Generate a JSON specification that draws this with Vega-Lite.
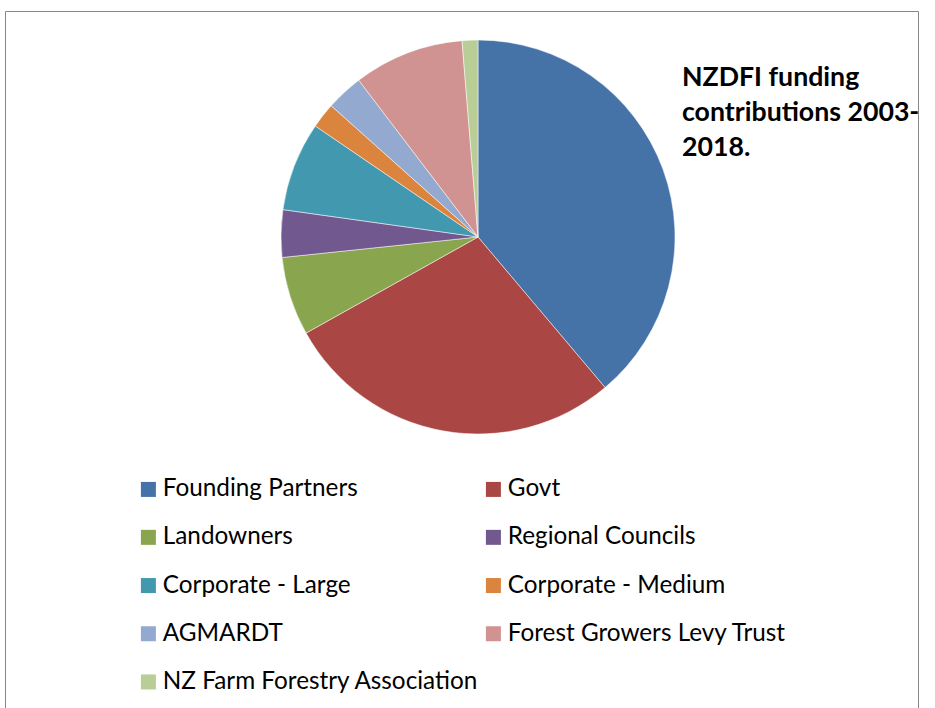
{
  "$schema": "https://vega.github.io/schema/vega-lite/v6.json",
  "autosize": "none",
  "width": 946,
  "height": 452,
  "padding": {"left": 5, "top": 11, "right": -16, "bottom": 245},
  "background": "white",
  "title": {
    "text": ["NZDFI funding", "contributions 2003-", "2018."],
    "orient": "none",
    "anchor": "start",
    "frame": "group",
    "align": "left",
    "baseline": "alphabetic",
    "dx": 677,
    "dy": 75,
    "font": "Lato",
    "fontSize": 26.7,
    "fontWeight": "bold",
    "color": "black",
    "lineHeight": 35
  },
  "data": {
    "values": [
      {"contributor": "Founding Partners", "share": 38.84, "order": 1},
      {"contributor": "Govt", "share": 28.05, "order": 2},
      {"contributor": "Landowners", "share": 6.45, "order": 3},
      {"contributor": "Regional Councils", "share": 3.88, "order": 4},
      {"contributor": "Corporate - Large", "share": 7.31, "order": 5},
      {"contributor": "Corporate - Medium", "share": 2.08, "order": 6},
      {"contributor": "AGMARDT", "share": 3.04, "order": 7},
      {"contributor": "Forest Growers Levy Trust", "share": 9.06, "order": 8},
      {"contributor": "NZ Farm Forestry Association", "share": 1.29, "order": 9}
    ]
  },
  "mark": {"type": "arc", "outerRadius": 197, "stroke": "white", "strokeWidth": 0.5},
  "encoding": {
    "theta": {"field": "share", "type": "quantitative", "stack": true},
    "order": {"field": "order", "type": "quantitative"},
    "color": {
      "field": "contributor",
      "type": "nominal",
      "scale": {
        "domain": ["Founding Partners", "Govt", "Landowners", "Regional Councils", "Corporate - Large", "Corporate - Medium", "AGMARDT", "Forest Growers Levy Trust", "NZ Farm Forestry Association"],
        "range": ["#4572A7", "#AA4643", "#89A54E", "#71588F", "#4198AF", "#DB843D", "#93A9CF", "#D19392", "#B9CD96"]
      },
      "legend": {
        "orient": "none",
        "legendX": 0,
        "legendY": 0,
        "columns": 2,
        "direction": "horizontal",
        "gridAlign": "all",
        "title": "\u00a0\u00a0\u00a0\u00a0\u00a0\u00a0\u00a0\u00a0\u00a0\u00a0\u00a0\u00a0\u00a0\u00a0\u00a0\u00a0\u00a0\u00a0\u00a0\u00a0",
        "titleFont": "Lato",
        "titleFontSize": 200,
        "titleLimit": 0,
        "titlePadding": 134.75,
        "padding": 131.25,
        "strokeColor": "#888888",
        "encode": {
          "legend": {"update": {"strokeWidth": {"value": 1.2}}}
        },
        "symbolType": "square",
        "symbolSize": 225,
        "symbolStrokeWidth": 0,
        "labelFont": "Lato",
        "labelFontSize": 24.3,
        "labelColor": "black",
        "labelOffset": 2.25,
        "labelLimit": 0,
        "rowPadding": 23.2,
        "columnPadding": 2
      }
    }
  }
}
